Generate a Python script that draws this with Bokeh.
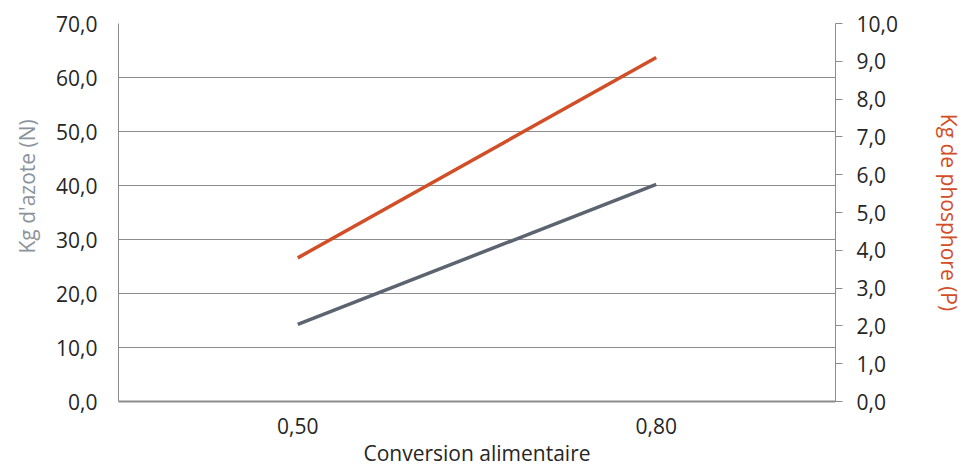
from bokeh.plotting import figure
from bokeh.models import (ColumnDataSource, FactorRange, Range1d, LinearAxis,
                          FixedTicker, CustomJSTickFormatter, Title)
from bokeh.embed import file_html
from bokeh.resources import INLINE

categories = ["0,50", "0,80"]
azote = [14.3, 40.2]
phosphore = [3.8, 9.1]
left_ticks = [0, 10, 20, 30, 40, 50, 60, 70]
right_ticks = [0, 1, 2, 3, 4, 5, 6, 7, 8, 9, 10]
left_title = "Kg d'azote (N)"
right_title = "Kg de phosphore (P)"
x_title = "Conversion alimentaire"

FONT = "Open Sans"
FS = "21px"
TICK_COLOR = "#262626"
AXIS_GREY = "#8c8c8c"
GREY_LINE = "#5c6470"
ORANGE = "#d24e27"

src = ColumnDataSource(dict(x=categories, n=azote, p=phosphore))

p = figure(width=964, height=466, x_range=FactorRange(*categories, range_padding=0),
           y_range=Range1d(0, 70), output_backend="svg", toolbar_location=None,
           min_border_left=118, min_border_right=129, min_border_top=23,
           min_border_bottom=65)
p.frame_width = 717
p.frame_height = 378
p.outline_line_color = None
p.background_fill_color = "white"
p.border_fill_color = "white"

p.extra_y_ranges = {"p": Range1d(0, 10)}

fmt = CustomJSTickFormatter(code="return tick.toFixed(1).replace('.', ',');")

# left axis
ya = p.yaxis[0]
ya.ticker = FixedTicker(ticks=left_ticks)
ya.formatter = fmt
ya.major_label_text_font = FONT
ya.major_label_text_font_size = FS
ya.major_label_text_color = TICK_COLOR
ya.major_label_standoff = 21
ya.major_tick_out = 0
ya.major_tick_in = 0
ya.minor_tick_out = 0
ya.minor_tick_in = 0
ya.axis_line_color = AXIS_GREY

# left axis title, a little above centre as in the reference
p.add_layout(Title(text=left_title, align="left", offset=148, standoff=22,
                   vertical_align="top",
                   text_font=FONT, text_font_size=FS, text_font_style="normal",
                   text_color="#8b949c"), "left")

# right axis
ra = LinearAxis(y_range_name="p")
ra.ticker = FixedTicker(ticks=right_ticks)
ra.formatter = fmt
ra.axis_label = right_title
ra.axis_label_text_color = ORANGE
ra.axis_label_text_font = FONT
ra.axis_label_text_font_size = FS
ra.axis_label_text_font_style = "normal"
ra.axis_label_standoff = 34
ra.major_label_text_font = FONT
ra.major_label_text_font_size = FS
ra.major_label_text_color = TICK_COLOR
ra.major_label_standoff = 14
ra.major_tick_out = 7
ra.major_tick_in = 0
ra.minor_tick_out = 0
ra.minor_tick_in = 0
ra.major_tick_line_color = AXIS_GREY
ra.axis_line_color = AXIS_GREY
p.add_layout(ra, "right")

# x axis
xa = p.xaxis[0]
xa.axis_label = x_title
xa.axis_label_text_font = FONT
xa.axis_label_text_font_size = FS
xa.axis_label_text_font_style = "normal"
xa.axis_label_text_color = TICK_COLOR
xa.axis_label_standoff = 2
xa.major_label_text_font = FONT
xa.major_label_text_font_size = FS
xa.major_label_text_color = TICK_COLOR
xa.major_label_standoff = 16
xa.major_tick_out = 0
xa.major_tick_in = 0
xa.axis_line_color = AXIS_GREY
xa.axis_line_width = 2

p.xgrid.grid_line_color = None
p.ygrid.grid_line_color = AXIS_GREY
p.ygrid.grid_line_width = 1
p.ygrid.ticker = FixedTicker(ticks=left_ticks)

p.line("x", "n", source=src, line_color=GREY_LINE, line_width=3.5)
p.line("x", "p", source=src, line_color=ORANGE, line_width=3.5, y_range_name="p")

open("out.html", "w").write(file_html(p, INLINE))
